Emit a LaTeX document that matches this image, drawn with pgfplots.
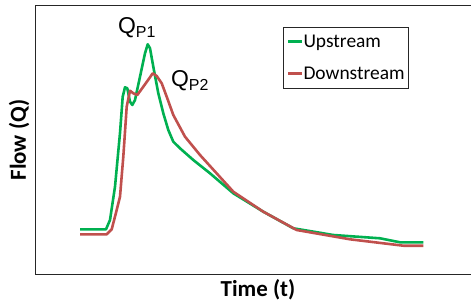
\documentclass[border=0pt]{standalone}
\usepackage{pgfplots}
\pgfplotsset{compat=1.18}
\usepackage{fontspec}
\setmainfont{Carlito}
\newfontfamily\arial{Liberation Sans}
\definecolor{upg}{RGB}{0,176,80}
\definecolor{dnr}{RGB}{192,80,77}
\begin{document}
\begin{tikzpicture}[x=1bp,y=1bp]
\path[use as bounding box] (0,0) rectangle (471,302);
\begin{axis}[
  at={(35bp,28bp)}, anchor=south west,
  scale only axis, width=437bp, height=268bp,
  xmin=35, xmax=472, ymin=0, ymax=268,
  xtick=\empty, ytick=\empty,
  axis line style={draw=black!85, line width=1bp},
  clip=false,
  legend style={at={(axis cs:282.7,247.3)}, anchor=north west,
    draw=black!85, line width=0.8bp, font=\fontsize{19.5}{22}\selectfont,
    inner xsep=4bp, inner ysep=5bp, row sep=13bp,
    nodes={inner sep=0pt, text height=15bp, text depth=4bp},
    /tikz/every even column/.append style={column sep=0pt},
    cells={anchor=west}},
  legend image code/.code={\draw[#1, line width=2.4bp] (0bp,0bp) -- (14bp,0bp);},
  legend cell align=left,
]
\addplot[upg, line width=2.6bp, line join=round] coordinates {
(80,44.7) (106,44.7) (110,54) (115,87.3) (120,141) (122.7,177.3) (125,186.7)
(127.3,185.7) (130,172.3) (132.3,169) (135,174) (140,197.3) (145,220.7)
(147.7,229.7) (150,225.7) (153.3,207.3) (158.3,180.7) (163.3,160.7)
(168.3,144) (173.3,132.3) (180,125.7) (193.3,114) (210,100.7) (233.3,80.7)
(263.3,62.3) (293.3,45.7) (333.3,39) (380,35.7) (400,31.7) (423.3,31.7)
};
\addlegendentry{Upstream}
\addplot[dnr, line width=2.6bp, line join=round] coordinates {
(80,39.7) (106.7,39.7) (111.7,44.7) (116.7,64) (120,77.3) (123.3,117.3)
(126.7,167.3) (130,183.3) (133.3,180.7) (137.3,179) (143.3,187.3)
(149.3,195.7) (152.7,200.7) (156.7,198) (161.7,190.7) (166.7,177.3)
(173.3,159) (185,137.3) (200,119) (233.3,82.3) (263.3,62.3) (296.7,44)
(350,34.7) (403.3,28.3) (423.3,28.3)
};
\addlegendentry{Downstream}
\node[font=\arial\fontsize{23}{23}\selectfont, inner sep=0pt] at (axis cs:137,246) {Q\textsubscript{\fontsize{16}{16}\selectfont P1}};
\node[font=\arial\fontsize{23}{23}\selectfont, inner sep=0pt] at (axis cs:190,193) {Q\textsubscript{\fontsize{16}{16}\selectfont P2}};
\node[font=\bfseries\fontsize{23}{23}\selectfont] at (axis cs:258,-16) {Time (t)};
\node[font=\bfseries\fontsize{23}{23}\selectfont, rotate=90] at (axis cs:19,134) {Flow (Q)};
\end{axis}
\end{tikzpicture}
\end{document}
